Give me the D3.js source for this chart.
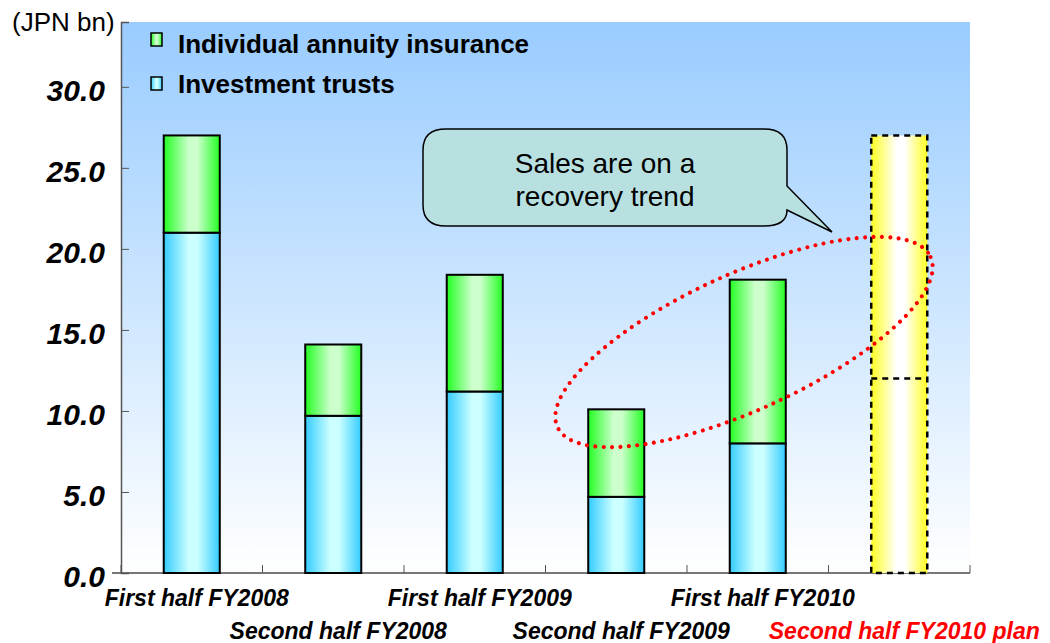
<!DOCTYPE html>
<html lang="en">
<head>
  <meta charset="UTF-8">
  <title>Sales of investment trusts and individual annuity insurance</title>
  <style>
    body { margin: 0; background: #fff; font-family: "Liberation Sans", Arial, sans-serif; }
    svg text { font-family: "Liberation Sans", Arial, sans-serif; }
  </style>
</head>
<body>
  <script src="https://d3js.org/d3.v7.min.js"></script>
  <script>
    const categories = ["First half FY2008", "Second half FY2008", "First half FY2009",
      "Second half FY2009", "First half FY2010", "Second half FY2010 plan"];
    const investmentTrusts = [21.0, 9.7, 11.2, 4.7, 8.0, 12.0];
    const annuityInsurance = [6.0, 4.4, 7.2, 5.4, 10.1, 15.0];
    const isPlan = [false, false, false, false, false, true];
    const yTicks = [0, 5, 10, 15, 20, 25, 30];
    const seriesNames = ["Individual annuity insurance", "Investment trusts"];

    const width = 1050, height = 643;
    const margin = { left: 121, top: 22, right: 80, bottom: 70 };
    const plotW = width - margin.left - margin.right;
    const plotH = height - margin.top - margin.bottom;

    const svg = d3.select("body").append("svg").attr("width", width).attr("height", height);
    const defs = svg.append("defs");

    // background gradient of plot area
    const bg = defs.append("linearGradient").attr("id", "bg-grad")
      .attr("x1", 0).attr("y1", 0).attr("x2", 0).attr("y2", 1);
    bg.append("stop").attr("offset", "0%").attr("stop-color", "#99ccff");
    bg.append("stop").attr("offset", "100%").attr("stop-color", "#ffffff");

    // horizontal "cylinder" gradients for bars
    const barGrad = (id, edge, mid) => {
      const gr = defs.append("linearGradient").attr("id", id)
        .attr("x1", 0).attr("y1", 0).attr("x2", 1).attr("y2", 0);
      gr.append("stop").attr("offset", "0%").attr("stop-color", edge);
      gr.append("stop").attr("offset", "45%").attr("stop-color", mid);
      gr.append("stop").attr("offset", "60%").attr("stop-color", mid);
      gr.append("stop").attr("offset", "100%").attr("stop-color", edge);
    };
    barGrad("grad-it", "#33ccff", "#ccffff");
    barGrad("grad-ann", "#22ff22", "#ccffcc");
    barGrad("grad-plan", "#ffff22", "#ffffff");

    const g = svg.append("g").attr("transform", `translate(${margin.left},${margin.top})`);

    g.append("rect").attr("width", plotW).attr("height", plotH).attr("fill", "url(#bg-grad)");

    const x = d3.scaleBand().domain(categories).range([0, plotW]).paddingInner(0.604).paddingOuter(0.302);
    const y = d3.scaleLinear().domain([0, 34]).range([plotH, 0]);

    // x axis with ticks at category boundaries (under the bars)
    const xAxisG = g.append("g").attr("transform", `translate(0,${plotH})`);
    xAxisG.append("line").attr("x1", -9).attr("x2", plotW).attr("stroke", "#777").attr("stroke-width", 2);
    const bounds = d3.range(categories.length + 1).map(i => i * x.step());
    xAxisG.selectAll(".xt").data(bounds).join("line").attr("class", "xt")
      .attr("x1", d => d).attr("x2", d => d).attr("y1", 0).attr("y2", -8).attr("stroke", "#555");

    // bars
    const bars = g.append("g").selectAll("g").data(categories).join("g");
    bars.each(function (c, i) {
      const sel = d3.select(this);
      const bx = x(c), bw = x.bandwidth();
      const it = investmentTrusts[i], tot = it + annuityInsurance[i];
      if (isPlan[i]) {
        sel.append("rect").attr("x", bx).attr("y", y(tot)).attr("width", bw).attr("height", y(0) - y(tot))
          .attr("fill", "url(#grad-plan)").attr("stroke", "#000").attr("stroke-width", 2.5)
          .attr("stroke-dasharray", "6 5");
        sel.append("line").attr("x1", bx).attr("x2", bx + bw).attr("y1", y(it)).attr("y2", y(it))
          .attr("stroke", "#000").attr("stroke-width", 2.5).attr("stroke-dasharray", "6 5");
      } else {
        sel.append("rect").attr("x", bx).attr("y", y(it)).attr("width", bw).attr("height", y(0) - y(it))
          .attr("fill", "url(#grad-it)").attr("stroke", "#000").attr("stroke-width", 2);
        sel.append("rect").attr("x", bx).attr("y", y(tot)).attr("width", bw).attr("height", y(it) - y(tot))
          .attr("fill", "url(#grad-ann)").attr("stroke", "#000").attr("stroke-width", 2);
      }
    });

    // y axis
    const yAxis = g.append("g").call(d3.axisRight(y).tickValues(yTicks).tickSize(8).tickFormat(""));
    yAxis.select(".domain").attr("stroke", "#555").attr("stroke-width", 1.5);
    yAxis.selectAll(".tick line").attr("stroke", "#555");
    g.append("g").selectAll("text").data(yTicks).join("text")
      .attr("x", -16).attr("y", d => y(d) + 14)
      .attr("text-anchor", "end").attr("font-size", 30).attr("font-weight", "bold").attr("font-style", "italic")
      .text(d => d.toFixed(1));

    // category labels, staggered in two rows
    g.append("g").selectAll("text").data(categories).join("text")
      .attr("x", c => x(c) + x.bandwidth() / 2 + 5)
      .attr("y", (c, i) => plotH + (i % 2 === 0 ? 33 : 66))
      .attr("text-anchor", "middle").attr("font-size", 23).attr("font-weight", "bold").attr("font-style", "italic")
      .attr("fill", (c, i) => isPlan[i] ? "#ff0000" : "#000")
      .text(c => c);

    // unit label
    svg.append("text").attr("x", 12).attr("y", 31).attr("font-size", 26).text("(JPN bn)");

    // legend
    const legend = svg.append("g");
    [["url(#grad-ann)", 33, 53], ["url(#grad-it)", 77, 93]].forEach(([fill, ly, ty], i) => {
      legend.append("rect").attr("x", 151).attr("y", ly).attr("width", 11).attr("height", 13)
        .attr("fill", fill).attr("stroke", "#000").attr("stroke-width", 1.5);
      legend.append("text").attr("x", 178).attr("y", ty).attr("font-size", 26).attr("font-weight", "bold")
        .text(seriesNames[i]);
    });

    // callout bubble
    const bubble = svg.append("g");
    bubble.append("path")
      .attr("d", "M446,129 L764,129 Q787,129 787,150 L787,186 L832,232 L787,210 Q787,226 764,226 L446,226 Q423,226 423,205 L423,150 Q423,129 446,129 Z")
      .attr("fill", "#b8e0e0").attr("stroke", "#000").attr("stroke-width", 1.5);
    bubble.selectAll("text").data(["Sales are on a", "recovery trend"]).join("text")
      .attr("x", 605).attr("y", (d, i) => 173 + i * 33).attr("text-anchor", "middle").attr("font-size", 28)
      .text(d => d);

    // red dotted ellipse
    svg.append("ellipse").attr("cx", 744).attr("cy", 342).attr("rx", 205).attr("ry", 68)
      .attr("transform", "rotate(-24.5,744,342)")
      .attr("fill", "none").attr("stroke", "#ff0000").attr("stroke-width", 4)
      .attr("stroke-linecap", "round").attr("stroke-dasharray", "0 8.4");
  </script>
</body>
</html>
